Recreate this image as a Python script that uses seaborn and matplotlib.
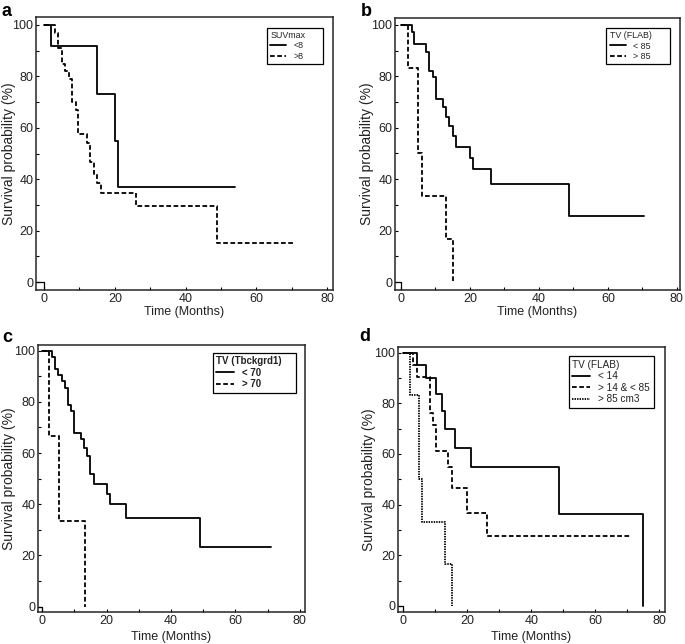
import numpy as np
import pandas as pd
import matplotlib
matplotlib.use("Agg")
import matplotlib.pyplot as plt
from matplotlib.ticker import MultipleLocator
import seaborn as sns

# ===============================
# DATA (Kaplan-Meier steps)
# ===============================

# a - SUVmax
a_low_t = [0, 2, 15, 20, 21, 54]
a_low_s = [100, 92, 73, 55, 37, 37]
a_high_t = [0, 3, 4, 5, 6, 7, 8, 9, 9.7, 12, 13, 14, 15, 16, 26, 49, 71]
a_high_s = [100, 97, 91, 85, 82, 79, 70, 67, 57.4, 54, 46.5, 42.2, 38.6, 34.7, 29.6, 15.2, 15.2]

# b - TV (FLAB)
b_low_t = [0, 3.2, 3.9, 7.2, 8.2, 9.2, 10.1, 12.1, 13, 14, 15, 16, 20.1, 21, 26, 48.8, 70.6]
b_low_s = [100, 97.4, 92.5, 89.6, 82.2, 79.6, 71, 67.9, 64.3, 60.8, 56.9, 52.6, 48.4, 43.9, 38.3, 25.6, 25.6]
b_high_t = [0, 2.2, 5.1, 6, 13.1, 15.2]
b_high_s = [100, 83.3, 50, 33.3, 16.7, 0]

# c - TV (Tbckgrd1)
c_low_t = [0, 3.1, 3.9, 5, 6, 7, 8.1, 8.9, 9.9, 12, 13, 14, 15, 16, 20, 21, 26, 49, 71]
c_low_s = [100, 97.7, 92.8, 90.5, 88.2, 85.5, 78.8, 76.6, 68, 65.5, 62.1, 58.9, 51.7, 47.8, 43.9, 40, 34.8, 23.3, 23.3]
c_high_t = [0, 2.2, 5.3, 13.2]
c_high_s = [100, 66.7, 33.3, 0]

# d - TV (FLAB), three groups
d_low_t = [0, 4.2, 7, 10.2, 12, 13, 16, 21, 48.75, 74.8]
d_low_s = [100, 94.9, 90.1, 83.6, 77.1, 69.7, 62.2, 54.7, 36.3, 0]
d_mid_t = [0, 2.9, 4.2, 8.3, 9.2, 10.2, 14, 15.1, 20, 26, 70.8]
d_mid_s = [100, 95.1, 90.5, 76.3, 71.4, 61.2, 55, 46.4, 36.8, 27.6, 27.6]
d_high_t = [0, 2.1, 5, 5.7, 13, 15.1]
d_high_s = [100, 83.3, 50, 33.3, 16.7, 0]

# ===============================
# STYLE
# ===============================

sns.set_style("ticks")
plt.rcParams['font.family'] = ['Liberation Sans', 'DejaVu Sans']
plt.rcParams['axes.linewidth'] = 1.1
plt.rcParams['xtick.direction'] = 'in'
plt.rcParams['ytick.direction'] = 'in'

TEXT = "#222222"
SOLID = ""
DASH = (2.6, 1.4)
DOT = (0.8, 0.6)

fig = plt.figure(figsize=(6.85, 6.44), dpi=100)
W, H = 685.0, 644.0


def make_axes(left, top, right, bottom):
    return fig.add_axes([left / W, 1 - bottom / H, (right - left) / W, (bottom - top) / H])


def km_frame(groups):
    rows = []
    for name, t, s in groups:
        for ti, si in zip(t, s):
            rows.append((name, ti, si))
    return pd.DataFrame(rows, columns=["group", "time", "surv"])


def draw_panel(ax, groups, dashes, xlim, ylim, title, leg_box, leg_size,
               ylab_x, xlab_y, bold=False):
    df = km_frame(groups)
    sns.lineplot(data=df, x="time", y="surv", style="group", dashes=dashes,
                 color="black", estimator=None, sort=False, drawstyle="steps-post",
                 linewidth=1.3, ax=ax)
    ax.set_xlim(*xlim)
    ax.set_ylim(*ylim)
    ax.xaxis.set_major_locator(MultipleLocator(20))
    ax.xaxis.set_minor_locator(MultipleLocator(10))
    ax.yaxis.set_major_locator(MultipleLocator(20))
    ax.yaxis.set_minor_locator(MultipleLocator(10))
    ax.tick_params(which="both", length=2.5, width=0.8, colors="black", labelcolor=TEXT,
                   labelsize=9, pad=2)
    for sp in ax.spines.values():
        sp.set_visible(True)
        sp.set_linewidth(1.1)
    ax.set_xlabel("Time (Months)", fontsize=9, color=TEXT)
    ax.set_ylabel("Survival probability (%)", fontsize=10, color=TEXT)
    ax.yaxis.set_label_coords(ylab_x, 0.5)
    ax.xaxis.set_label_coords(0.5, xlab_y)

    # small corner mark at (0, 0)
    ax.plot([xlim[0], 0, 0], [0, 0, ylim[0]], color="black", linewidth=0.9)

    old = ax.get_legend()
    handles = old.legend_handles
    labels = [t.get_text() for t in old.texts]
    weight = "bold" if bold else "normal"
    leg = ax.legend(handles, labels, title=title, loc="upper left",
                    bbox_to_anchor=leg_box, mode="expand", borderaxespad=0,
                    frameon=True, fancybox=False, edgecolor="black", framealpha=1,
                    handlelength=1.8, handletextpad=0.8, borderpad=0.35,
                    labelspacing=0.15, prop={"size": leg_size, "weight": weight},
                    title_fontproperties={"size": leg_size, "weight": weight})
    leg._legend_box.align = "left"
    leg.get_frame().set_linewidth(0.9)
    for t in leg.texts:
        t.set_color(TEXT)
    leg.get_title().set_color(TEXT)


# ===============================
# PANELS
# ===============================

ax_a = make_axes(36, 17, 333, 290)
draw_panel(ax_a, [("<8", a_low_t, a_low_s), (">8", a_high_t, a_high_s)],
           {"<8": SOLID, ">8": DASH}, (-2.3, 81.7), (-3.1, 103.1),
           "SUVmax", (0.778, 0.960, 0.189, 0.0), 6.4, -0.067, -0.060)

ax_b = make_axes(395, 18, 680, 290)
draw_panel(ax_b, [("< 85", b_low_t, b_low_s), ("> 85", b_high_t, b_high_s)],
           {"< 85": SOLID, "> 85": DASH}, (-1.7, 80.9), (-3.1, 102.7),
           "TV (FLAB)", (0.742, 0.963, 0.223, 0.0), 6.4, -0.073, -0.060)

ax_c = make_axes(38, 345, 305, 612)
draw_panel(ax_c, [("< 70", c_low_t, c_low_s), ("> 70", c_high_t, c_high_s)],
           {"< 70": SOLID, "> 70": DASH}, (-1.3, 81.6), (-2.1, 102.2),
           "TV (Tbckgrd1)", (0.655, 0.970, 0.311, 0.0), 7, -0.082, -0.072, bold=True)

ax_d = make_axes(398, 347, 665, 612)
draw_panel(ax_d, [("< 14", d_low_t, d_low_s), ("> 14 & < 85", d_mid_t, d_mid_s),
                  ("> 85 cm3", d_high_t, d_high_s)],
           {"< 14": SOLID, "> 14 & < 85": DASH, "> 85 cm3": DOT},
           (-1.7, 81.8), (-2.4, 102.2),
           "TV (FLAB)", (0.640, 0.966, 0.318, 0.0), 7.2, -0.082, -0.072)

# panel letters
for letter, x, y in [("a", 2, 3), ("b", 361, 3), ("c", 2, 329), ("d", 359, 328)]:
    fig.text(x / W, 1 - y / H, letter, fontsize=13, fontweight="bold",
             ha="left", va="top", color="black")

fig.savefig("out.png", dpi=100)
